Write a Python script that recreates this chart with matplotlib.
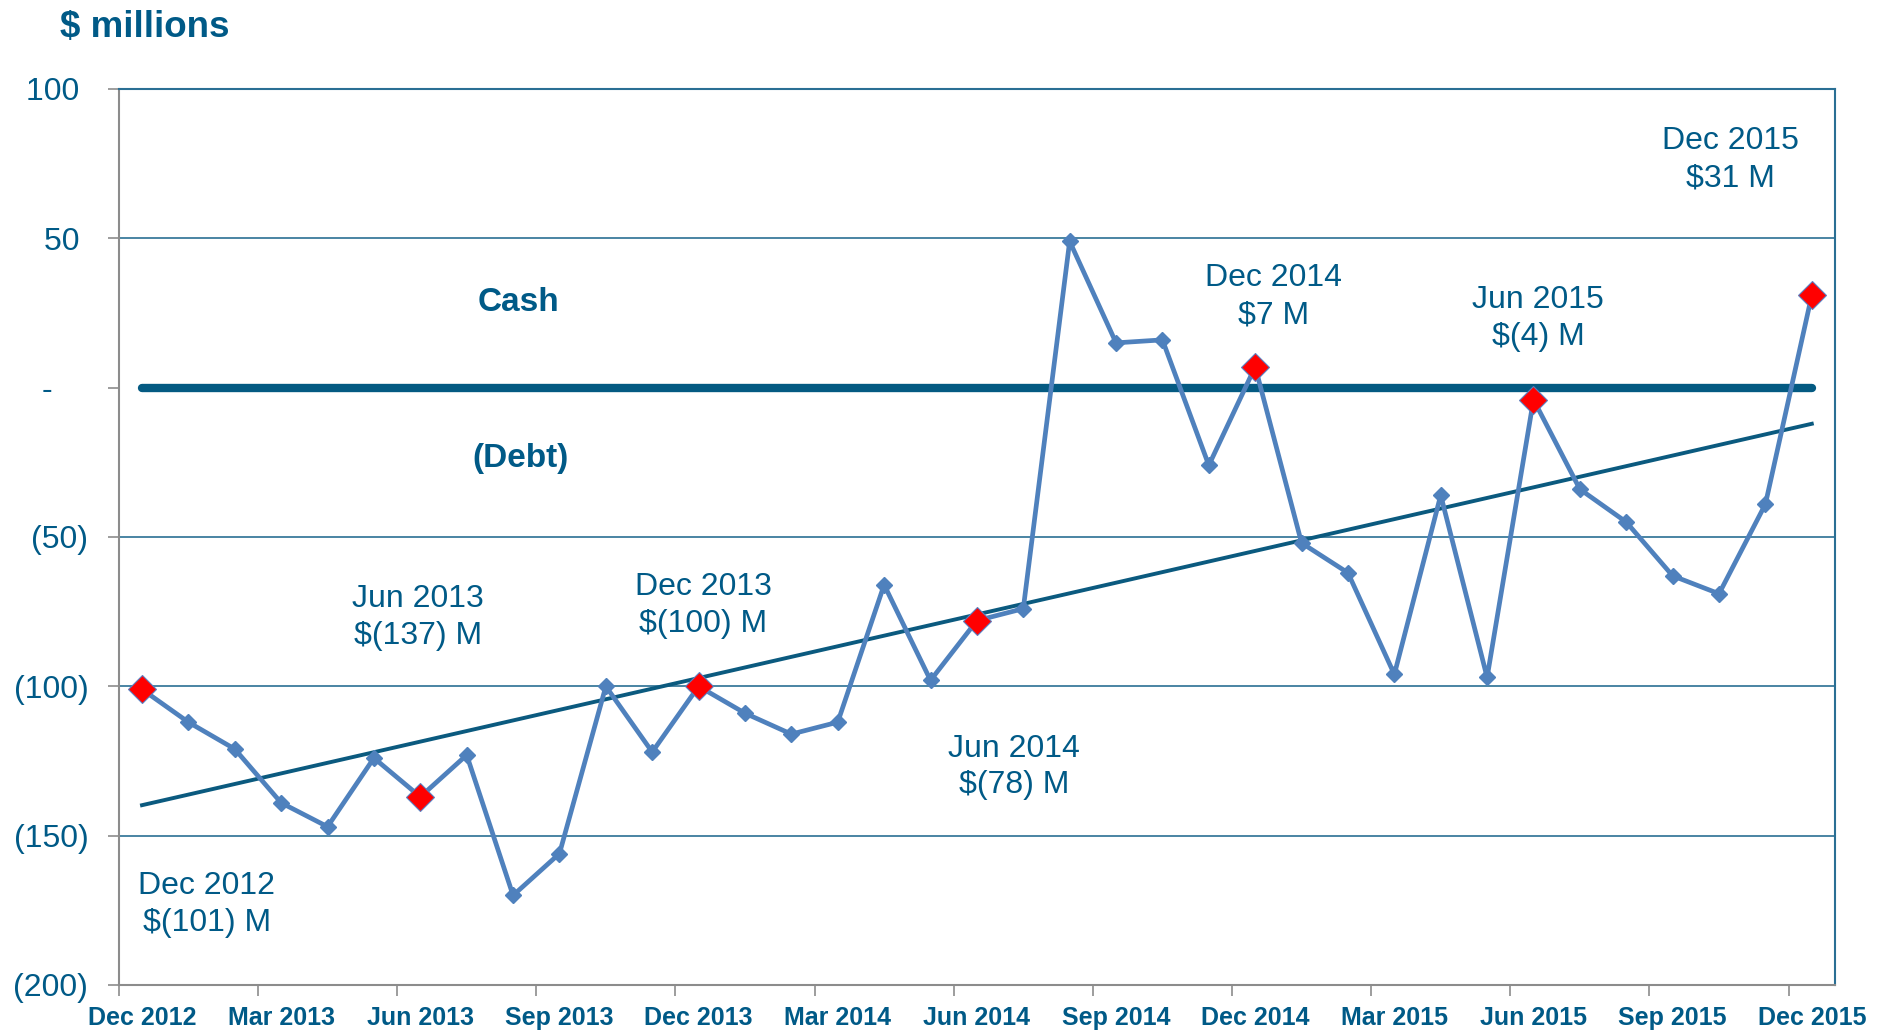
import numpy as np
import matplotlib
matplotlib.use("Agg")
import matplotlib.pyplot as plt
from matplotlib.ticker import FixedLocator

# Datos mensuales Dec 2012 .. Dec 2015 ($ millones)
cash_debt = [-101, -112, -121, -139, -147, -124, -137, -123, -170, -156, -100, -122,
             -100, -109, -116, -112, -66, -98, -78, -74, 49, 15, 16, -26,
             7, -52, -62, -96, -36, -97, -4, -34, -45, -63, -69, -39, 31]
x_labels = ["Dec 2012", "Mar 2013", "Jun 2013", "Sep 2013", "Dec 2013", "Mar 2014",
            "Jun 2014", "Sep 2014", "Dec 2014", "Mar 2015", "Jun 2015", "Sep 2015",
            "Dec 2015"]
y_ticks = [100, 50, 0, -50, -100, -150, -200]
y_labels = ["100 ", "50 ", "-    ", "(50)", "(100)", "(150)", "(200)"]
highlight_idx = [0, 6, 12, 18, 24, 30, 36]
highlight_text = ["Dec 2012\n$(101) M", "Jun 2013\n$(137) M", "Dec 2013\n$(100) M",
                  "Jun 2014\n$(78) M", "Dec 2014\n$7 M", "Jun 2015\n$(4) M",
                  "Dec 2015\n$31 M"]
# posiciones de las etiquetas (coordenadas de datos)
text_pos = [(1.4, -173), (5.95, -77), (12.1, -73), (18.8, -127),
            (24.4, 30.5), (30.1, 23.3), (34.25, 76.3)]

TXT = "#005A87"
GRID = "#2A6F94"
SERIE = "#4F81BD"
FONT = ["Liberation Sans", "DejaVu Sans"]
plt.rcParams["font.family"] = FONT

x = np.arange(len(cash_debt))
vals = np.array(cash_debt)

fig = plt.figure(figsize=(18.83, 10.30), dpi=100)
ax = fig.add_axes([0.0631, 0.0437, 0.9114, 0.8699])

# gridlines
for yv in [100, 50, -50, -100, -150]:
    ax.axhline(yv, color=GRID, lw=1.2, zorder=1)

# linea cero gruesa
ax.plot([x[0], x[-1]], [0, 0], color="#045A82", lw=6, solid_capstyle="round", zorder=2)

# tendencia lineal
m, b = np.polyfit(x, vals, 1)
ax.plot(x, m * x + b, color="#0B5A7F", lw=2.8, zorder=3)

# serie
ax.plot(x, vals, color=SERIE, lw=3.4, marker="D", ms=8, mfc=SERIE, mec=SERIE, zorder=4)
ax.plot(x[highlight_idx], vals[highlight_idx], ls="none", marker="D", ms=14,
        mfc="#FF0000", mec="#5B7FC0", mew=0.8, zorder=5)

for (tx, ty), t in zip(text_pos, highlight_text):
    ax.text(tx, ty, t, ha="center", va="center", fontsize=23, color=TXT,
            linespacing=1.3, zorder=6)

ax.text(8.12, 28.5, "Cash", ha="center", va="center", fontsize=24,
        fontweight="bold", color=TXT)
ax.text(8.17, -23.7, "(Debt)", ha="center", va="center", fontsize=24,
        fontweight="bold", color=TXT)

ax.set_xlim(-0.5, 36.5)
ax.set_ylim(-200, 100)

ax.set_yticks(y_ticks)
ax.set_yticklabels(y_labels)
ax.set_xticks(np.arange(0, 37, 3))
ax.set_xticklabels(x_labels)
ax.xaxis.set_minor_locator(FixedLocator(np.arange(-0.5, 37, 3)))

ax.tick_params(axis="x", which="major", length=0, pad=15, labelsize=18,
               labelcolor=TXT)
for lab in ax.get_xticklabels():
    lab.set_fontweight("bold")
ax.tick_params(axis="x", which="minor", length=8, width=1.2, color="#8C8C8C",
               direction="out")
ax.tick_params(axis="y", length=8, width=1.2, color="#8C8C8C", direction="out",
               pad=14, labelsize=23, labelcolor=TXT)

for side in ["left", "bottom"]:
    ax.spines[side].set_color("#8C8C8C")
    ax.spines[side].set_linewidth(1.5)
for side in ["top", "right"]:
    ax.spines[side].set_color(GRID)
    ax.spines[side].set_linewidth(1.5)

fig.text(60 / 1883, 1 - 27 / 1030, "$ millions", ha="left", va="center",
         fontsize=26.5, fontweight="bold", color=TXT)

fig.savefig("out.png", dpi=100)
